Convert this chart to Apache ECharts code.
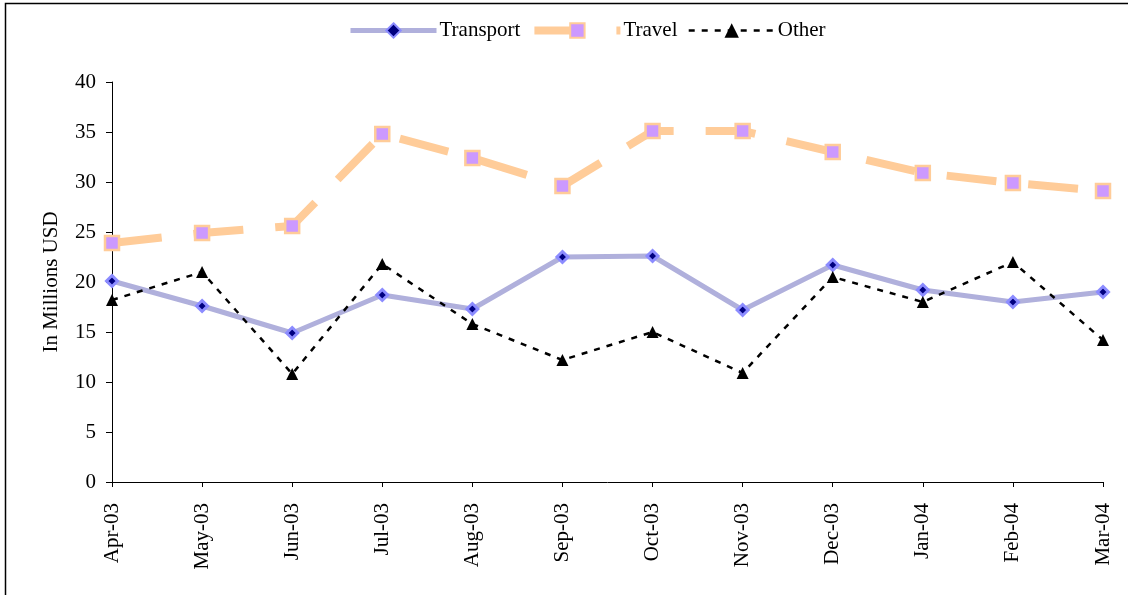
<!DOCTYPE html>
<html>
<head>
<meta charset="utf-8">
<script src="https://cdn.jsdelivr.net/npm/echarts@6/dist/echarts.min.js"></script>
<style>
  html, body { margin: 0; padding: 0; background: #fff; }
  #chart { width: 1128px; height: 595px; }
</style>
</head>
<body>
<div id="chart"></div>
<script>
// Monthly spending, in millions of US dollars
const months = ['Apr-03', 'May-03', 'Jun-03', 'Jul-03', 'Aug-03', 'Sep-03',
                'Oct-03', 'Nov-03', 'Dec-03', 'Jan-04', 'Feb-04', 'Mar-04'];
const transport = [20.1, 17.6, 14.9, 18.7, 17.3, 22.5, 22.6, 17.2, 21.7, 19.2, 18.0, 19.0];
const travel    = [23.9, 24.9, 25.6, 34.8, 32.4, 29.6, 35.1, 35.1, 33.0, 30.9, 29.9, 29.1];
const other     = [18.2, 21.0, 10.8, 21.8, 15.8, 12.2, 15.0, 10.9, 20.5, 18.0, 22.0, 14.2];
const yTicks    = { min: 0, max: 40, interval: 5 };

const serif = '"Liberation Serif", "DejaVu Serif", serif';

const transportLine = { color: '#b0b0dc', width: 5 };
const travelLine = { color: '#ffcc99', width: 8, type: [50, 32], cap: 'butt' };
const otherLine = { color: '#000', width: 2.5, type: [6, 7] };

const chart = echarts.init(document.getElementById('chart'), null, { renderer: 'canvas' });

chart.setOption({
  animation: false,
  backgroundColor: '#fff',
  graphic: [{
    type: 'rect',
    shape: { x: 5.5, y: 3.5, width: 1400, height: 900 },
    style: { fill: 'none', stroke: '#000', lineWidth: 1.5 },
    silent: true,
    z: -1
  }],
  legend: {
    top: 15,
    left: 343,
    itemWidth: 86,
    itemHeight: 18,
    itemGap: 10,
    textStyle: { fontFamily: serif, fontSize: 21, color: '#000', padding: [0, 0, 0, -2] },
    data: [
      { name: 'Transport', lineStyle: transportLine },
      { name: 'Travel', lineStyle: travelLine },
      { name: 'Other', lineStyle: otherLine }
    ]
  },
  grid: { left: 112, right: 25, top: 82, bottom: 113, containLabel: false },
  xAxis: {
    type: 'category',
    data: months,
    boundaryGap: false,
    axisLine: { lineStyle: { color: '#000', width: 1 } },
    axisTick: { show: true, alignWithLabel: true, length: 5, lineStyle: { color: '#000' } },
    axisLabel: {
      rotate: 90,
      margin: 21,
      fontFamily: serif,
      fontSize: 21,
      color: '#000',
      interval: 0
    },
    splitLine: { show: false }
  },
  yAxis: {
    type: 'value',
    min: yTicks.min,
    max: yTicks.max,
    interval: yTicks.interval,
    name: 'In Millions USD',
    nameLocation: 'middle',
    nameGap: 50,
    nameRotate: 90,
    nameTextStyle: { fontFamily: serif, fontSize: 21, color: '#000' },
    axisLine: { show: true, lineStyle: { color: '#000', width: 1 } },
    axisTick: { show: true, length: 6, lineStyle: { color: '#000' } },
    axisLabel: { margin: 16, fontFamily: serif, fontSize: 21, color: '#000' },
    splitLine: { show: false }
  },
  series: [
    {
      name: 'Transport',
      type: 'line',
      data: transport,
      lineStyle: transportLine,
      itemStyle: { color: '#000080', borderColor: '#8c8cff', borderWidth: 3 },
      symbol: 'diamond',
      symbolSize: 11,
      showAllSymbol: true,
      z: 2
    },
    {
      name: 'Travel',
      type: 'line',
      data: travel,
      lineStyle: travelLine,
      itemStyle: { color: '#cc99ff', borderColor: '#ffcc99', borderWidth: 2.5 },
      symbol: 'rect',
      symbolSize: 14,
      showAllSymbol: true,
      z: 3
    },
    {
      name: 'Other',
      type: 'line',
      data: other,
      lineStyle: otherLine,
      itemStyle: { color: '#000' },
      symbol: 'triangle',
      symbolSize: 12,
      showAllSymbol: true,
      z: 4
    }
  ]
});
</script>
</body>
</html>
